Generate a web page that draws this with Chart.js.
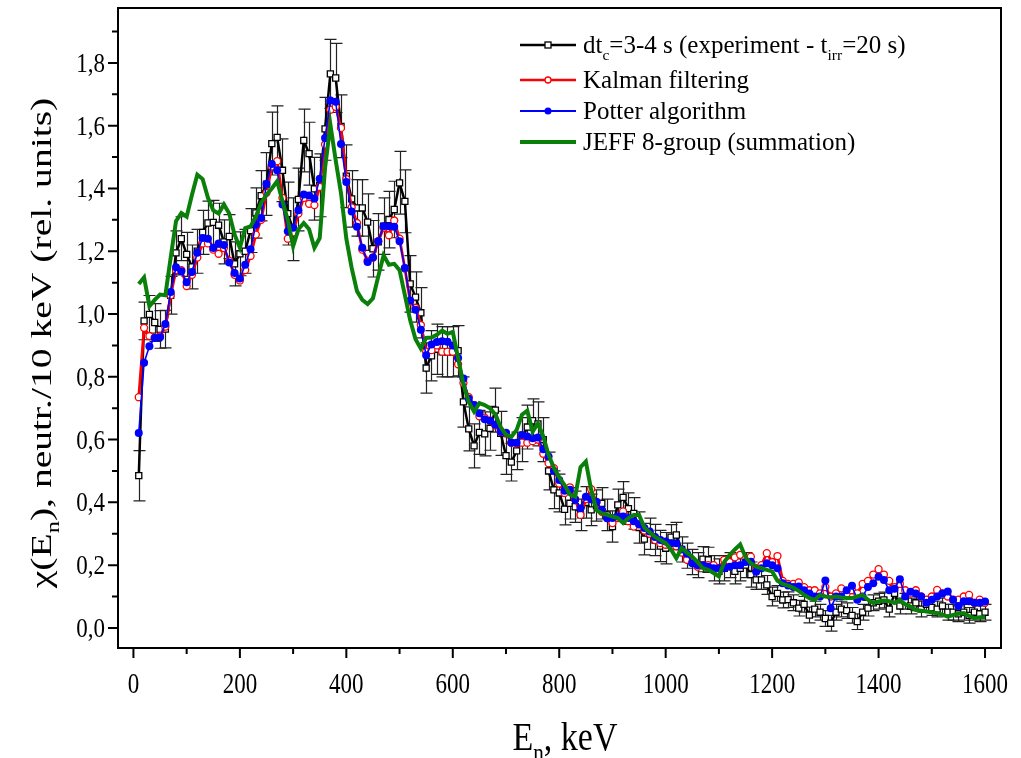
<!DOCTYPE html>
<html><head><meta charset="utf-8">
<script src="https://cdn.jsdelivr.net/npm/chart.js@4.4.0/dist/chart.umd.min.js"></script>
<style>html,body{margin:0;padding:0;background:#fff;}</style>
</head><body>
<canvas id="c" width="1021" height="758"></canvas>
<script>
// ---------------- DATA ----------------
const energies = [10,20,30,40,50,60,70,80,90,100,110,120,130,140,150,160,170,180,190,200,
210,220,230,240,250,260,270,280,290,300,310,320,330,340,350,360,370,380,390,400,
410,420,430,440,450,460,470,480,490,500,510,520,530,540,550,560,570,580,590,600,
610,620,630,640,650,660,670,680,690,700,710,720,730,740,750,760,770,780,790,800,
810,820,830,840,850,860,870,880,890,900,910,920,930,940,950,960,970,980,990,1000,
1010,1020,1030,1040,1050,1060,1070,1080,1090,1100,1110,1120,1130,1140,1150,1160,1170,1180,1190,1200,
1210,1220,1230,1240,1250,1260,1270,1280,1290,1300,1310,1320,1330,1340,1350,1360,1370,1380,1390,1400,
1410,1420,1430,1440,1450,1460,1470,1480,1490,1500,1510,1520,1530,1540,1550,1560,1570,1580,1590,1600];

const experiment = [0.485,0.978,0.999,0.973,0.951,0.952,1.06,1.195,1.24,1.19,1.15,1.20,1.26,1.29,1.292,1.283,1.23,1.247,1.16,1.192,
1.20,1.266,1.322,1.377,1.414,1.543,1.563,1.458,1.32,1.27,1.365,1.553,1.511,1.399,1.41,1.59,1.765,1.752,1.598,1.439,
1.367,1.338,1.338,1.293,1.208,1.23,1.28,1.301,1.333,1.418,1.359,1.096,1.054,1.004,0.828,0.867,0.888,0.88,0.88,0.88,
0.883,0.72,0.634,0.58,0.623,0.618,0.636,0.694,0.62,0.549,0.528,0.564,0.60,0.64,0.66,0.65,0.60,0.50,0.44,0.43,
0.378,0.397,0.386,0.36,0.40,0.376,0.39,0.397,0.36,0.323,0.392,0.416,0.38,0.365,0.32,0.283,0.30,0.28,0.261,0.254,
0.289,0.296,0.25,0.23,0.21,0.20,0.219,0.217,0.19,0.18,0.19,0.20,0.18,0.19,0.20,0.17,0.153,0.153,0.137,0.10,
0.11,0.089,0.09,0.08,0.063,0.075,0.041,0.06,0.05,0.03,0.015,0.05,0.06,0.055,0.04,0.02,0.05,0.063,0.08,0.085,
0.089,0.06,0.11,0.07,0.085,0.07,0.08,0.06,0.075,0.065,0.06,0.07,0.05,0.05,0.045,0.05,0.04,0.05,0.045,0.05];

const experimentErr = [0.08,0.06,0.06,0.06,0.06,0.06,0.06,0.07,0.07,0.07,0.07,0.07,0.07,0.07,0.07,0.07,0.07,0.07,0.07,0.07,
0.07,0.07,0.08,0.08,0.10,0.10,0.10,0.10,0.10,0.10,0.10,0.10,0.10,0.10,0.10,0.10,0.11,0.11,0.10,0.10,
0.09,0.09,0.09,0.09,0.09,0.09,0.09,0.09,0.09,0.10,0.10,0.09,0.08,0.08,0.08,0.08,0.08,0.08,0.08,0.08,
0.08,0.08,0.07,0.07,0.07,0.07,0.07,0.07,0.07,0.06,0.06,0.06,0.07,0.07,0.07,0.07,0.07,0.06,0.06,0.06,
0.05,0.05,0.05,0.05,0.05,0.05,0.05,0.05,0.05,0.05,0.05,0.05,0.05,0.05,0.05,0.05,0.05,0.05,0.05,0.05,
0.04,0.04,0.04,0.04,0.04,0.04,0.04,0.04,0.04,0.04,0.04,0.04,0.04,0.04,0.04,0.04,0.03,0.03,0.03,0.03,
0.025,0.025,0.025,0.025,0.025,0.025,0.025,0.025,0.025,0.025,0.025,0.025,0.025,0.025,0.025,0.025,0.025,0.025,0.025,0.025,
0.025,0.025,0.025,0.025,0.025,0.025,0.025,0.025,0.025,0.025,0.025,0.025,0.025,0.025,0.025,0.025,0.025,0.025,0.025,0.025];

const kalman = [0.735,0.956,0.93,0.925,0.93,0.96,1.06,1.14,1.14,1.089,1.125,1.18,1.225,1.225,1.205,1.192,1.21,1.17,1.125,1.107,
1.14,1.185,1.253,1.30,1.386,1.47,1.487,1.37,1.24,1.26,1.32,1.37,1.351,1.347,1.405,1.54,1.651,1.66,1.593,1.43,
1.34,1.29,1.205,1.17,1.18,1.232,1.275,1.251,1.298,1.24,1.145,1.04,1.02,0.965,0.88,0.885,0.90,0.88,0.88,0.88,
0.84,0.78,0.735,0.71,0.674,0.67,0.66,0.645,0.625,0.62,0.59,0.588,0.59,0.59,0.595,0.60,0.555,0.525,0.509,0.46,
0.43,0.448,0.41,0.36,0.41,0.442,0.40,0.37,0.35,0.334,0.35,0.371,0.34,0.323,0.33,0.31,0.30,0.28,0.27,0.265,
0.26,0.26,0.24,0.217,0.21,0.195,0.20,0.20,0.20,0.19,0.217,0.21,0.225,0.233,0.22,0.227,0.19,0.20,0.238,0.21,
0.229,0.15,0.14,0.14,0.145,0.13,0.12,0.12,0.11,0.13,0.10,0.11,0.126,0.11,0.12,0.11,0.14,0.15,0.17,0.187,
0.17,0.15,0.13,0.14,0.12,0.11,0.12,0.10,0.09,0.10,0.121,0.11,0.10,0.09,0.09,0.10,0.105,0.08,0.09,0.08];

const potter = [0.621,0.845,0.897,0.924,0.926,0.968,1.07,1.149,1.136,1.101,1.134,1.195,1.242,1.24,1.21,1.225,1.22,1.164,1.131,1.113,
1.157,1.206,1.285,1.306,1.414,1.478,1.458,1.349,1.264,1.275,1.331,1.381,1.378,1.368,1.431,1.561,1.68,1.676,1.542,1.421,
1.327,1.278,1.211,1.166,1.18,1.232,1.28,1.28,1.278,1.232,1.147,1.043,1.014,0.95,0.869,0.903,0.911,0.913,0.912,0.90,
0.86,0.795,0.73,0.71,0.684,0.665,0.66,0.647,0.625,0.622,0.59,0.59,0.615,0.61,0.604,0.607,0.569,0.546,0.50,0.471,
0.437,0.44,0.408,0.381,0.418,0.41,0.402,0.376,0.349,0.35,0.355,0.355,0.35,0.34,0.33,0.318,0.307,0.29,0.28,0.275,
0.27,0.27,0.25,0.236,0.206,0.20,0.20,0.195,0.19,0.19,0.19,0.195,0.20,0.20,0.21,0.211,0.179,0.19,0.206,0.20,
0.19,0.142,0.135,0.13,0.132,0.12,0.11,0.10,0.10,0.151,0.063,0.10,0.10,0.12,0.134,0.09,0.10,0.13,0.142,0.163,
0.153,0.12,0.125,0.155,0.10,0.115,0.11,0.10,0.08,0.09,0.10,0.11,0.116,0.09,0.07,0.085,0.085,0.08,0.08,0.084];

const jeff = [1.096,1.117,1.025,1.045,1.062,1.06,1.18,1.296,1.322,1.31,1.38,1.444,1.43,1.37,1.33,1.32,1.349,1.32,1.253,1.211,
1.274,1.279,1.31,1.355,1.38,1.40,1.423,1.36,1.30,1.216,1.27,1.29,1.27,1.211,1.242,1.465,1.604,1.49,1.385,1.24,
1.147,1.073,1.045,1.032,1.05,1.12,1.187,1.157,1.16,1.14,1.06,0.98,0.92,0.89,0.924,0.925,0.934,0.947,0.937,0.943,
0.86,0.775,0.72,0.689,0.716,0.71,0.70,0.68,0.64,0.615,0.609,0.631,0.679,0.692,0.625,0.652,0.61,0.551,0.51,0.48,
0.455,0.425,0.418,0.512,0.53,0.44,0.376,0.365,0.36,0.355,0.35,0.334,0.35,0.36,0.36,0.32,0.305,0.29,0.28,0.27,
0.25,0.222,0.254,0.24,0.227,0.21,0.19,0.185,0.175,0.164,0.21,0.232,0.25,0.266,0.225,0.206,0.195,0.19,0.185,0.18,
0.15,0.14,0.135,0.128,0.118,0.105,0.095,0.089,0.105,0.10,0.098,0.10,0.097,0.095,0.095,0.10,0.105,0.09,0.079,0.084,
0.087,0.085,0.079,0.089,0.075,0.068,0.057,0.055,0.052,0.05,0.047,0.042,0.036,0.041,0.045,0.047,0.038,0.031,0.034,0.034];

const xMajorTicks = [0,200,400,600,800,1000,1200,1400,1600];
const xMinorTicks = [100,300,500,700,900,1100,1300,1500];
const yMajorTicks = [0,0.2,0.4,0.6,0.8,1.0,1.2,1.4,1.6,1.8];
const yMinorTicks = [0.1,0.3,0.5,0.7,0.9,1.1,1.3,1.5,1.7,1.9];
const yTickLabels = ['0,0','0,2','0,4','0,6','0,8','1,0','1,2','1,4','1,6','1,8'];
const xTickLabels = ['0','200','400','600','800','1000','1200','1400','1600'];

// legend labels: segments [text, isSubscript]
const legendLabels = [
  [['dt',0],['c',1],['=3-4 s (experiment - t',0],['irr',1],['=20 s)',0]],
  [['Kalman filtering',0]],
  [['Potter algorithm',0]],
  [['JEFF 8-group (summation)',0]]
];
const xTitle = [['E',0],['n',1],[', keV',0]];
const yTitle = [['\u03C7(E',0],['n',1],['), neutr./10 keV (rel. units)',0]];

// ---------------- STYLE ----------------
const FONT = '"Liberation Serif","Times New Roman",serif';
const C_EXP = '#000000', C_KAL = '#ff0000', C_POT = '#0000ff', C_JEFF = '#0a800a';

function pts(vals){ return energies.map((e,i)=>({x:e,y:vals[i]})); }

function drawRich(ctx, segs, x, y, size, align, sy){
  let w = 0;
  const parts = segs.map(([t,sub])=>{
    const fs = sub ? size*0.62 : size;
    ctx.font = fs + 'px ' + FONT;
    const mw = ctx.measureText(t).width;
    w += mw;
    return {t, sub, fs, mw};
  });
  let cx = align==='center' ? x - w/2 : (align==='right' ? x - w : x);
  ctx.save();
  ctx.translate(0, y);
  ctx.scale(1, sy||1);
  ctx.textBaseline = 'alphabetic';
  ctx.textAlign = 'left';
  ctx.fillStyle = '#000';
  for(const p of parts){
    ctx.font = p.fs + 'px ' + FONT;
    ctx.fillText(p.t, cx, p.sub ? size*0.28 : 0);
    cx += p.mw;
  }
  ctx.restore();
  return w;
}

const decorations = {
  id:'decor',
  beforeDatasetsDraw(chart){
    const ctx = chart.ctx, xs = chart.scales.x, ys = chart.scales.y, a = chart.chartArea;
    ctx.save();
    ctx.beginPath(); ctx.rect(a.left, a.top, a.right-a.left, a.bottom-a.top); ctx.clip();
    ctx.strokeStyle = '#222'; ctx.lineWidth = 1.2;
    energies.forEach((e,i)=>{
      const px = Math.round(xs.getPixelForValue(e))+0.5;
      const t = ys.getPixelForValue(experiment[i]+experimentErr[i]);
      const b = ys.getPixelForValue(experiment[i]-experimentErr[i]);
      ctx.beginPath();
      ctx.moveTo(px,t); ctx.lineTo(px,b);
      ctx.moveTo(px-6,t); ctx.lineTo(px+6,t);
      ctx.moveTo(px-6,b); ctx.lineTo(px+6,b);
      ctx.stroke();
    });
    ctx.restore();
  },
  afterDraw(chart){
    const ctx = chart.ctx, xs = chart.scales.x, ys = chart.scales.y, a = chart.chartArea;
    ctx.save();
    ctx.strokeStyle = '#000'; ctx.lineWidth = 2;
    ctx.strokeRect(a.left, a.top, a.right-a.left, a.bottom-a.top);
    ctx.beginPath();
    xMajorTicks.forEach(v=>{const p=xs.getPixelForValue(v); ctx.moveTo(p,a.bottom); ctx.lineTo(p,a.bottom+10);});
    xMinorTicks.forEach(v=>{const p=xs.getPixelForValue(v); ctx.moveTo(p,a.bottom); ctx.lineTo(p,a.bottom+6);});
    yMajorTicks.forEach(v=>{const p=ys.getPixelForValue(v); ctx.moveTo(a.left,p); ctx.lineTo(a.left-10,p);});
    yMinorTicks.forEach(v=>{const p=ys.getPixelForValue(v); ctx.moveTo(a.left,p); ctx.lineTo(a.left-6,p);});
    ctx.stroke();
    xMajorTicks.forEach((v,i)=>{
      drawRich(ctx, [[xTickLabels[i],0]], xs.getPixelForValue(v), a.bottom+45, 23, 'center', 1.25);
    });
    yMajorTicks.forEach((v,i)=>{
      drawRich(ctx, [[yTickLabels[i],0]], a.left-13, ys.getPixelForValue(v)+9, 23, 'right', 1.2);
    });
    drawRich(ctx, xTitle, 565, 750, 34, 'center', 1.2);
    ctx.save();
    ctx.translate(51, 343);
    ctx.rotate(-Math.PI/2);
    ctx.scale(1.32, 1);
    drawRich(ctx, yTitle, 0, 0, 30, 'center', 1);
    ctx.restore();
    const rows = [45, 80, 111, 142];
    const lx0 = 520, lx1 = 576, tx = 583;
    const styles = [
      {c:C_EXP, w:2.5, m:'rect'},
      {c:C_KAL, w:2.5, m:'open'},
      {c:C_POT, w:2, m:'dot'},
      {c:C_JEFF, w:4, m:null}
    ];
    rows.forEach((ry,i)=>{
      const s = styles[i];
      ctx.strokeStyle = s.c; ctx.lineWidth = s.w;
      ctx.beginPath(); ctx.moveTo(lx0, ry); ctx.lineTo(lx1, ry); ctx.stroke();
      const mx = (lx0+lx1)/2;
      if(s.m==='rect'){ ctx.fillStyle='#fff'; ctx.lineWidth=1.3; ctx.fillRect(mx-3,ry-3,6,6); ctx.strokeRect(mx-3,ry-3,6,6); }
      if(s.m==='open'){ ctx.fillStyle='#fff'; ctx.lineWidth=1.3; ctx.beginPath(); ctx.arc(mx,ry,3,0,Math.PI*2); ctx.fill(); ctx.stroke(); }
      if(s.m==='dot'){ ctx.fillStyle=s.c; ctx.beginPath(); ctx.arc(mx,ry,3.5,0,Math.PI*2); ctx.fill(); }
      drawRich(ctx, legendLabels[i], tx, ry+8, 25, 'left', 1.0);
    });
    ctx.restore();
  }
};

new Chart(document.getElementById('c'), {
  type:'line',
  data:{ datasets:[
    {label:'JEFF 8-group (summation)', data:pts(jeff), borderColor:C_JEFF, borderWidth:4, pointRadius:0, fill:false, tension:0, order:0},
    {label:'Potter algorithm', data:pts(potter), borderColor:C_POT, borderWidth:1.6, pointRadius:4, pointStyle:'circle',
      pointBackgroundColor:C_POT, pointBorderColor:C_POT, pointBorderWidth:0, fill:false, tension:0, order:1},
    {label:'Kalman filtering', data:pts(kalman), borderColor:C_KAL, borderWidth:2.8, pointRadius:3.5, pointStyle:'circle',
      pointBackgroundColor:'#fff', pointBorderColor:C_KAL, pointBorderWidth:1.3, fill:false, tension:0, order:2},
    {label:'dt_c=3-4 s (experiment - t_irr=20 s)', data:pts(experiment), borderColor:C_EXP, borderWidth:2.5, pointRadius:4.3, pointStyle:'rect',
      pointBackgroundColor:'#fff', pointBorderColor:C_EXP, pointBorderWidth:1.3, fill:false, tension:0, order:3}
  ]},
  options:{
    responsive:false, animation:false,
    layout:{padding:{top:8,right:20,left:0,bottom:0}},
    plugins:{legend:{display:false}, tooltip:{enabled:false}, title:{display:false}},
    scales:{
      x:{type:'linear', min:-29, max:1630,
         afterBuildTicks:s=>{ s.ticks = xMajorTicks.map(v=>({value:v})); },
         afterFit:s=>{ s.height = 110; },
         grid:{display:false}, border:{display:false}, ticks:{display:false}},
      y:{type:'linear', min:-0.064, max:1.975,
         afterBuildTicks:s=>{ s.ticks = yMajorTicks.map(v=>({value:v})); },
         afterFit:s=>{ s.width = 118; },
         grid:{display:false}, border:{display:false}, ticks:{display:false}}
    }
  },
  plugins:[decorations]
});
</script>
</body></html>
